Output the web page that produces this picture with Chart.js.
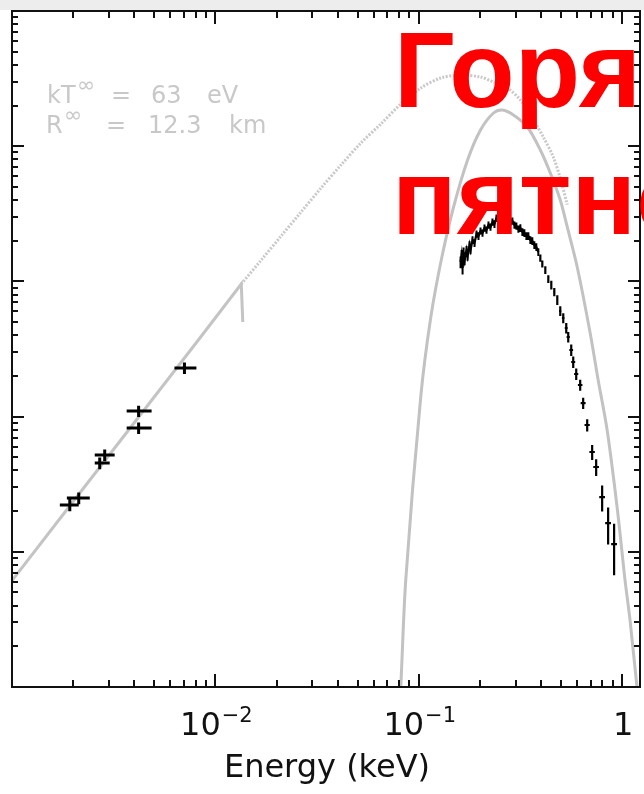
<!DOCTYPE html>
<html>
<head>
<meta charset="utf-8">
<script src="https://cdn.jsdelivr.net/npm/chart.js@4.4.1/dist/chart.umd.min.js"></script>
<style>
html,body{margin:0;padding:0;background:#fff;overflow:hidden}
canvas{display:block}
</style>
</head>
<body>
<canvas id="c" width="644" height="794"></canvas>
<script>
// ---- Axis ranges and tick labels ----
const energyMin = 0.001, energyMax = 1.225;      // keV
const fluxMin = 1e-5, fluxMax = 1;
const xLabelValues = [0.01, 0.1, 1];
const xLabelBase   = ['10', '10', '1'];
const xLabelExp    = ['\u22122', '\u22121', ''];
const xAxisTitle = 'Energy (keV)';

// ---- Rayleigh-Jeans part of the 63 eV blackbody (optical/UV band) ----
const rjEnergy = [0.001, 0.00170, 0.00825, 0.01341, 0.01364];
const rjFlux   = [6.12e-5, 1.718e-4, 3.687e-3, 9.568e-3, 5.008e-3];

// ---- Full blackbody, kT = 63 eV, R = 12.3 km ----
const bbEnergy = [0.01341, 0.01681, 0.02106, 0.02640, 0.03308, 0.04146, 0.05196, 0.06512,
                  0.08161, 0.1023, 0.1282, 0.1606, 0.2013, 0.2332, 0.2731, 0.3162, 0.3662,
                  0.4100, 0.4590, 0.4967, 0.5375];
const bbFlux   = [0.009568, 0.01439, 0.02167, 0.03261, 0.04907, 0.07260, 0.1056, 0.1460,
                  0.2051, 0.2694, 0.3194, 0.3362, 0.3249, 0.2985, 0.2694, 0.2197, 0.1562,
                  0.1169, 0.08318, 0.05800, 0.03700];

// ---- Hot spot component ----
const spotEnergy = [0.08069, 0.08161, 0.08634, 0.1023, 0.1145, 0.1297, 0.1484, 0.1739, 0.2013,
                    0.2332, 0.2581, 0.2922, 0.3422, 0.3963, 0.4437, 0.4967, 0.5375, 0.6017,
                    0.6967, 0.7627, 0.8443, 0.9451, 1.034, 1.094, 1.184, 1.211];
const spotFlux   = [8.0e-6, 1.0e-5, 6.18e-5, 1.396e-3, 5.362e-3, 0.01489, 0.03551, 0.07904, 0.1318,
                    0.1760, 0.1853, 0.1702, 0.1387, 0.09374, 0.06336, 0.04000, 0.02526, 0.01278,
                    4.152e-3, 1.866e-3, 7.96e-4, 2.145e-4, 6.18e-5, 3.13e-5, 1.0e-5, 8.0e-6];

// ---- Optical / UV photometry (filter bands) ----
const optEnergy   = [0.001924, 0.002129, 0.002700, 0.002857, 0.004194, 0.004194, 0.007047];
const optEnergyLo = [0.001719, 0.001861, 0.002552, 0.002552, 0.003663, 0.003663, 0.006295];
const optEnergyHi = [0.002129, 0.002412, 0.003023, 0.003198, 0.004858, 0.004858, 0.008069];
const optFlux     = [2.219e-4, 2.499e-4, 4.537e-4, 5.200e-4, 8.233e-4, 1.100e-3, 2.288e-3];
const optFluxErr  = [2.2e-5, 2.5e-5, 4.5e-5, 5.0e-5, 8.0e-5, 1.05e-4, 2.2e-4];

// ---- X-ray spectrum, finely binned ----
const xrayEnergy = [0.1606, 0.1625, 0.1643, 0.1662, 0.1681, 0.1719, 0.1739, 0.1778, 0.1798, 0.1839,
                    0.1881, 0.1924, 0.1968, 0.2013, 0.2059, 0.2106, 0.2154, 0.2203, 0.2254, 0.2305,
                    0.2358, 0.2412, 0.2467, 0.2523, 0.2581, 0.2640, 0.2700, 0.2762, 0.2825, 0.2889,
                    0.2955, 0.3022, 0.3091, 0.3162, 0.3234, 0.3308, 0.3384, 0.3461, 0.3540, 0.3620,
                    0.3703, 0.3788, 0.3874];
const xrayFlux   = [0.01391, 0.01568, 0.01256, 0.01650, 0.01439, 0.01707, 0.01541, 0.01859, 0.01707, 0.02024,
                    0.01923, 0.02242, 0.02167, 0.02359, 0.02280, 0.02483, 0.02400, 0.02614, 0.02526, 0.02750,
                    0.02658, 0.02944, 0.02797, 0.02893, 0.02750, 0.02995, 0.02797, 0.02893, 0.02750, 0.02797,
                    0.02614, 0.02569, 0.02441, 0.02483, 0.02318, 0.02280, 0.02167, 0.02167, 0.02024, 0.01990,
                    0.01859, 0.01796, 0.01650];
const xrayFluxErr = [0.0014, 0.0014, 0.0013, 0.0013, 0.0012, 0.0012, 0.0012, 0.0012, 0.0012, 0.0013,
                     0.0013, 0.0014, 0.0014, 0.0014, 0.0014, 0.0015, 0.0015, 0.0016, 0.0016, 0.0017,
                     0.0017, 0.0018, 0.0017, 0.0018, 0.0017, 0.0018, 0.0017, 0.0018, 0.0017, 0.0017,
                     0.0016, 0.0016, 0.0015, 0.0016, 0.0015, 0.0015, 0.0014, 0.0014, 0.0013, 0.0013,
                     0.0012, 0.0012, 0.0011];

// ---- X-ray spectrum, coarse bins at high energy ----
const xbinEnergy = [0.3963, 0.4053, 0.4193, 0.4338, 0.4487, 0.4642, 0.4802, 0.4967, 0.5138, 0.5315,
                    0.5436, 0.5623, 0.5752, 0.5950, 0.6223, 0.6437, 0.6737, 0.7127, 0.7457, 0.7980,
                    0.8539, 0.9137];
const xbinHalfWidth = [0.004, 0.004, 0.005, 0.005, 0.005, 0.006, 0.006, 0.007, 0.008, 0.009,
                       0.010, 0.012, 0.013, 0.014, 0.016, 0.018, 0.020, 0.022, 0.024, 0.026,
                       0.028, 0.030];
const xbinFlux   = [0.01489, 0.01345, 0.01214, 0.01042, 0.009406, 0.008349, 0.007287, 0.006040, 0.005362, 0.004521,
                    0.003879, 0.003110, 0.002534, 0.002066, 0.001713, 0.001260, 0.000867, 0.000547, 0.000424, 0.000254,
                    0.000163, 0.000114];
const xbinFluxErr = [0.0009, 0.0008, 0.0008, 0.0007, 0.0007, 0.0006, 0.0006, 0.0005, 0.00045, 0.0004,
                     0.00035, 0.0003, 0.00025, 0.0002, 0.00016, 0.00012, 0.00009, 0.00007, 0.00006, 0.000055,
                     0.00005, 0.000047];

const toXY = (xs, ys) => xs.map((v, i) => ({x: v, y: ys[i]}));

// Error bars for the photometry and X-ray spectra
const errorBars = {
  id: 'errorBars',
  afterDatasetsDraw(chart) {
    const {ctx, chartArea: a, scales: {x, y}} = chart;
    ctx.save();
    ctx.beginPath(); ctx.rect(a.left, a.top, a.right - a.left, a.bottom - a.top); ctx.clip();
    ctx.strokeStyle = '#000';
    // optical / UV crosses
    ctx.lineWidth = 3;
    ctx.beginPath();
    optEnergy.forEach((e, i) => {
      const px = x.getPixelForValue(e), py = y.getPixelForValue(optFlux[i]);
      ctx.moveTo(x.getPixelForValue(optEnergyLo[i]), py);
      ctx.lineTo(x.getPixelForValue(optEnergyHi[i]), py);
      ctx.moveTo(px, y.getPixelForValue(optFlux[i] + optFluxErr[i]));
      ctx.lineTo(px, y.getPixelForValue(optFlux[i] - optFluxErr[i]));
    });
    ctx.stroke();
    // fine X-ray bins: vertical errors only
    ctx.lineWidth = 2;
    ctx.beginPath();
    xrayEnergy.forEach((e, i) => {
      const px = x.getPixelForValue(e);
      ctx.moveTo(px, y.getPixelForValue(xrayFlux[i] + xrayFluxErr[i]));
      ctx.lineTo(px, y.getPixelForValue(xrayFlux[i] - xrayFluxErr[i]));
    });
    ctx.stroke();
    // coarse X-ray bins
    ctx.lineWidth = 2.2;
    ctx.beginPath();
    xbinEnergy.forEach((e, i) => {
      const px = x.getPixelForValue(e), py = y.getPixelForValue(xbinFlux[i]);
      ctx.moveTo(x.getPixelForValue(e - xbinHalfWidth[i]), py);
      ctx.lineTo(x.getPixelForValue(e + xbinHalfWidth[i]), py);
      ctx.moveTo(px, y.getPixelForValue(xbinFlux[i] + xbinFluxErr[i]));
      ctx.lineTo(px, y.getPixelForValue(xbinFlux[i] - xbinFluxErr[i]));
    });
    ctx.stroke();
    ctx.restore();
  }
};

// Frame with inward ticks on all four sides, axis labels and annotations
const frameAndText = {
  id: 'frameAndText',
  beforeDraw(chart) {
    const ctx = chart.ctx;
    ctx.save();
    ctx.fillStyle = '#fff';
    ctx.fillRect(0, 0, chart.width, chart.height);
    ctx.fillStyle = '#ededed';
    ctx.fillRect(0, 0, chart.width, 10);
    ctx.restore();
  },
  afterDraw(chart) {
    const {ctx, chartArea: a, scales: {x, y}} = chart;
    ctx.save();
    ctx.strokeStyle = '#111';
    ctx.lineWidth = 2;
    ctx.strokeRect(a.left, a.top, a.right - a.left, a.bottom - a.top);
    ctx.beginPath();
    for (let k = -3; k <= 0; k++) {
      for (let m = 1; m <= 9; m++) {
        const v = m * Math.pow(10, k);
        if (v < energyMin * 0.999 || v > energyMax) continue;
        const px = Math.round(x.getPixelForValue(v));
        const L = m === 1 ? 13 : 7;
        ctx.moveTo(px, a.bottom); ctx.lineTo(px, a.bottom - L);
        ctx.moveTo(px, a.top); ctx.lineTo(px, a.top + L);
      }
    }
    for (let k = -5; k <= 0; k++) {
      for (let m = 1; m <= 9; m++) {
        const v = m * Math.pow(10, k);
        if (v < fluxMin * 0.999 || v > fluxMax * 1.001) continue;
        const py = Math.round(y.getPixelForValue(v));
        const L = m === 1 ? 12 : 6;
        ctx.moveTo(a.left, py); ctx.lineTo(a.left + L, py);
        ctx.moveTo(a.right, py); ctx.lineTo(a.right - L, py);
      }
    }
    ctx.stroke();

    // energy tick labels
    ctx.fillStyle = '#111';
    ctx.textBaseline = 'alphabetic';
    xLabelValues.forEach((v, i) => {
      const px = x.getPixelForValue(v);
      ctx.font = '32px "DejaVu Sans"';
      const wb = ctx.measureText(xLabelBase[i]).width;
      ctx.font = '21px "DejaVu Sans"';
      const we = xLabelExp[i] ? ctx.measureText(xLabelExp[i]).width + 1 : 0;
      const x0 = px + 1 - (wb + we) / 2;
      ctx.textAlign = 'left';
      ctx.font = '32px "DejaVu Sans"';
      ctx.fillText(xLabelBase[i], x0, 735);
      if (xLabelExp[i]) {
        ctx.font = '21px "DejaVu Sans"';
        ctx.fillText(xLabelExp[i], x0 + wb + 1, 722);
      }
    });
    ctx.font = '32px "DejaVu Sans"';
    ctx.textAlign = 'center';
    ctx.fillText(xAxisTitle, 327, 777);

    // fit parameters
    ctx.fillStyle = '#c8c8c8';
    ctx.textAlign = 'left';
    ctx.font = '24px "DejaVu Sans"';
    ctx.fillText('kT', 47, 103);
    ctx.fillText('=', 111, 103);
    ctx.fillText('63', 151, 103);
    ctx.fillText('eV', 207, 103);
    ctx.fillText('R', 46, 133);
    ctx.fillText('=', 106, 133);
    ctx.fillText('12.3', 148, 133);
    ctx.fillText('km', 229, 133);
    ctx.font = '22px "DejaVu Sans"';
    ctx.fillText('\u221e', 77, 92);
    ctx.fillText('\u221e', 64, 122);

    // caption
    ctx.fillStyle = '#ff0000';
    ctx.font = 'bold 107px "Liberation Sans"';
    ctx.fillText('Горячее', 394, 107);
    ctx.fillText('пятно', 392, 234);
    ctx.restore();
  }
};

new Chart(document.getElementById('c'), {
  type: 'scatter',
  data: {
    datasets: [
      { data: toXY(rjEnergy, rjFlux), showLine: true, borderColor: '#c4c4c4', borderWidth: 3, pointRadius: 0 },
      { data: toXY(bbEnergy, bbFlux), showLine: true, borderColor: '#c9c9c9', borderWidth: 3, borderDash: [2, 1.5], pointRadius: 0, tension: 0.3 },
      { data: toXY(spotEnergy, spotFlux), showLine: true, borderColor: '#c2c2c2', borderWidth: 3, pointRadius: 0, tension: 0.3 },
      { data: toXY(xrayEnergy, xrayFlux), showLine: true, borderColor: '#000', borderWidth: 2.2, pointRadius: 0 }
    ]
  },
  options: {
    responsive: false,
    animation: false,
    devicePixelRatio: 1,
    layout: { padding: { left: 12, right: 4, top: 11, bottom: 107 } },
    plugins: { legend: { display: false }, tooltip: { enabled: false } },
    scales: {
      x: { type: 'logarithmic', min: energyMin, max: energyMax, display: false },
      y: { type: 'logarithmic', min: fluxMin, max: fluxMax, display: false }
    }
  },
  plugins: [errorBars, frameAndText]
});
</script>
</body>
</html>
